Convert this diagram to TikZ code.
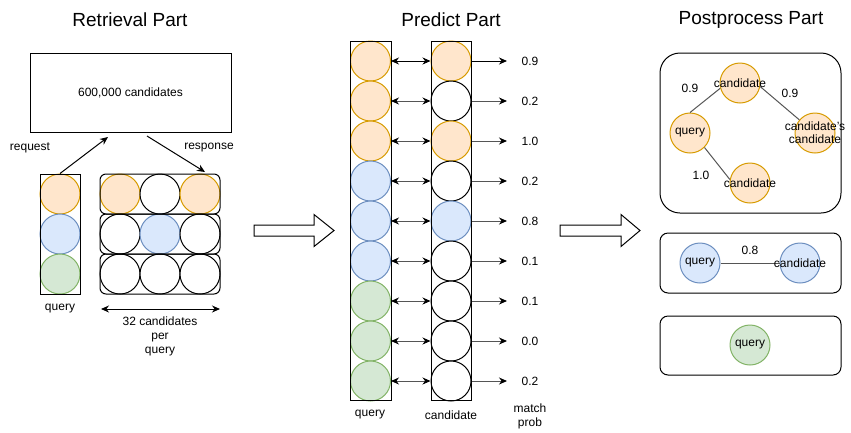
\documentclass[tikz,border=0pt]{standalone}
\usepackage{fontspec}
\setmainfont{Liberation Sans}
\usetikzlibrary{arrows.meta}
\definecolor{ofill}{HTML}{FFE6CC}\definecolor{oline}{HTML}{D79B00}
\definecolor{bfill}{HTML}{DAE8FC}\definecolor{bline}{HTML}{6C8EBF}
\definecolor{gfill}{HTML}{D5E8D4}\definecolor{gline}{HTML}{82B366}
\definecolor{edgegray}{HTML}{555555}
\tikzset{
  cir/.style={circle,minimum size=40pt,inner sep=0pt,line width=1pt},
  oc/.style={cir,draw=oline,fill=ofill},
  bc/.style={cir,draw=bline,fill=bfill},
  gc/.style={cir,draw=gline,fill=gfill},
  wc/.style={cir,draw=black,fill=white},
  lbl/.style={font=\fontsize{12}{14}\selectfont,align=center,inner sep=0pt},
  clbl/.style={font=\fontsize{12}{13}\selectfont,align=center,inner sep=0pt},
  ttl/.style={font=\fontsize{19}{21}\selectfont,inner sep=0pt},
  arr/.style={line width=1pt,-{Stealth[length=8pt,width=7pt,color=black]}},
  darr/.style={line width=1pt,{Stealth[length=8pt,width=7pt,color=black]}-{Stealth[length=8pt,width=7pt,color=black]}},
  frame/.style={draw=black,line width=1pt},
  rframe/.style={draw=black,line width=1pt,rounded corners=20pt},
}
\begin{document}
\begin{tikzpicture}[x=1pt,y=-1pt]
\useasboundingbox (0,0) rectangle (851,432);
% titles
\node[ttl] (t1) at (130,20) {Retrieval Part};
\node[ttl] (t2) at (451,20) {Predict Part};
\node[ttl] (t3) at (751,20) {Postprocess Part};

% ---------- Retrieval ----------
\node[frame,minimum width=201pt,minimum height=79pt,inner sep=0pt,lbl] (pool) at (130.5,92.5) {600,000 candidates};
\node[oc] (rq1) at (60,194) {};
\node[bc] (rq2) at (60,234) {};
\node[gc] (rq3) at (60,274) {};
\node[frame,minimum width=40pt,minimum height=120pt,inner sep=0pt] (rqcol) at (60,234) {};
\node[oc] (g11) at (120,194) {};\node[wc] (g12) at (160,194) {};\node[oc] (g13) at (200,194) {};
\node[wc] (g21) at (120,234) {};\node[bc] (g22) at (160,234) {};\node[wc] (g23) at (200,234) {};
\node[wc] (g31) at (120,274) {};\node[wc] (g32) at (160,274) {};\node[wc] (g33) at (200,274) {};
\node[draw=black,line width=1pt,rounded corners=6pt,minimum width=120pt,minimum height=40pt,inner sep=0pt] (row1) at (160,194) {};
\node[draw=black,line width=1pt,rounded corners=6pt,minimum width=120pt,minimum height=40pt,inner sep=0pt] (row2) at (160,234) {};
\node[draw=black,line width=1pt,rounded corners=6pt,minimum width=120pt,minimum height=40pt,inner sep=0pt] (row3) at (160,274) {};
\coordinate (reqend) at (108,137);
\coordinate (respstart) at (147,136);
\coordinate (respend) at (205,172);
\draw[arr] (rq1.north) -- (reqend);
\draw[arr] (respstart) -- (respend);
\node[lbl] (reqlbl) at (30,148) {request};
\node[lbl] (resplbl) at (209,148) {response};
\node[lbl] (rqlbl) at (60,309) {query};
\coordinate (wl) at (101,309);
\coordinate (wr) at (220,309);
\draw[darr] (wl) -- (wr);
\node[lbl,anchor=north] (perq) at (160,317) {32 candidates\\per\\query};

% hollow arrows
\draw[line width=1pt,fill=white] (254,225) -- (314,225) -- (314,214.5) -- (334,230.5) -- (314,246.5) -- (314,236) -- (254,236) -- cycle;
\draw[line width=1pt,fill=white] (560,225) -- (621,225) -- (621,214.5) -- (640,230.5) -- (621,246.5) -- (621,236) -- (560,236) -- cycle;

% ---------- Predict ----------
\foreach \i/\s in {0/oc,1/oc,2/oc,3/bc,4/bc,5/bc,6/gc,7/gc,8/gc}{
  \node[\s] (pq\i) at (370.5,61+40*\i) {};
}
\foreach \i/\s in {0/oc,1/wc,2/oc,3/wc,4/bc,5/wc,6/wc,7/wc,8/wc}{
  \node[\s] (pc\i) at (451,61+40*\i) {};
}
\node[frame,minimum width=41pt,minimum height=359pt,inner sep=0pt] (pqcol) at (370.5,220.5) {};
\node[frame,minimum width=40pt,minimum height=359pt,inner sep=0pt] (pccol) at (451,220.5) {};
\foreach \i/\p in {0/0.9,1/0.2,2/1.0,3/0.2,4/0.8,5/0.1,6/0.1,7/0.0,8/0.2}{
  \node[lbl] (pp\i) at (530,61+40*\i) {\p};
  \coordinate (pe\i) at (507,61+40*\i);
}
\draw[darr] (pq0.east) -- (pc0.west);
\draw[arr] (pc0.east) -- (pe0);
\foreach \i in {1,...,8}{
  \draw[darr,edgegray] (pq\i.east) -- (pc\i.west);
  \draw[arr,edgegray] (pc\i.east) -- (pe\i);
}
\node[lbl] (pqlbl) at (370,415) {query};
\node[lbl] (pclbl) at (451,415) {candidate};
\node[lbl] (mplbl) at (530,416) {match\\prob};

% ---------- Postprocess ----------
\node[rframe,minimum width=181pt,minimum height=160pt,inner sep=0pt] (box1) at (750.5,133) {};
\node[rframe,rounded corners=8pt,minimum width=181pt,minimum height=60pt,inner sep=0pt] (box2) at (750.5,263) {};
\node[rframe,rounded corners=8pt,minimum width=181pt,minimum height=59pt,inner sep=0pt] (box3) at (750.5,345.5) {};
\node[oc] (c1) at (740,83) {};
\node[oc] (q1) at (690,133) {};
\node[oc] (cc) at (815,133) {};
\node[oc] (c2) at (750,183) {};
\draw[line width=1pt,edgegray] (q1.north) -- (c1.195);
\draw[line width=1pt,edgegray] (c1.-10) -- (cc.140);
\draw[line width=1pt,edgegray] (q1.-45) -- (c2.170);
\node[clbl] (c1t) at (c1) {candidate};
\node[clbl] (q1t) at (q1) {query};
\node[clbl] (cct) at (cc) {candidate's\\candidate};
\node[clbl] (c2t) at (c2) {candidate};
\node[lbl] (e1) at (690,88) {0.9};
\node[lbl] (e2) at (790,93) {0.9};
\node[lbl] (e3) at (701,175) {1.0};
\node[bc] (q2) at (700,263) {};
\node[bc] (c3) at (800,263) {};
\draw[line width=1pt,edgegray] (q2) -- (c3);
\node[clbl] (q2t) at (q2) {query};
\node[clbl] (c3t) at (c3) {candidate};
\node[lbl] (e4) at (750,250) {0.8};
\node[gc] (q3) at (750,345) {};
\node[clbl] (q3t) at (q3) {query};
\end{tikzpicture}
\end{document}
